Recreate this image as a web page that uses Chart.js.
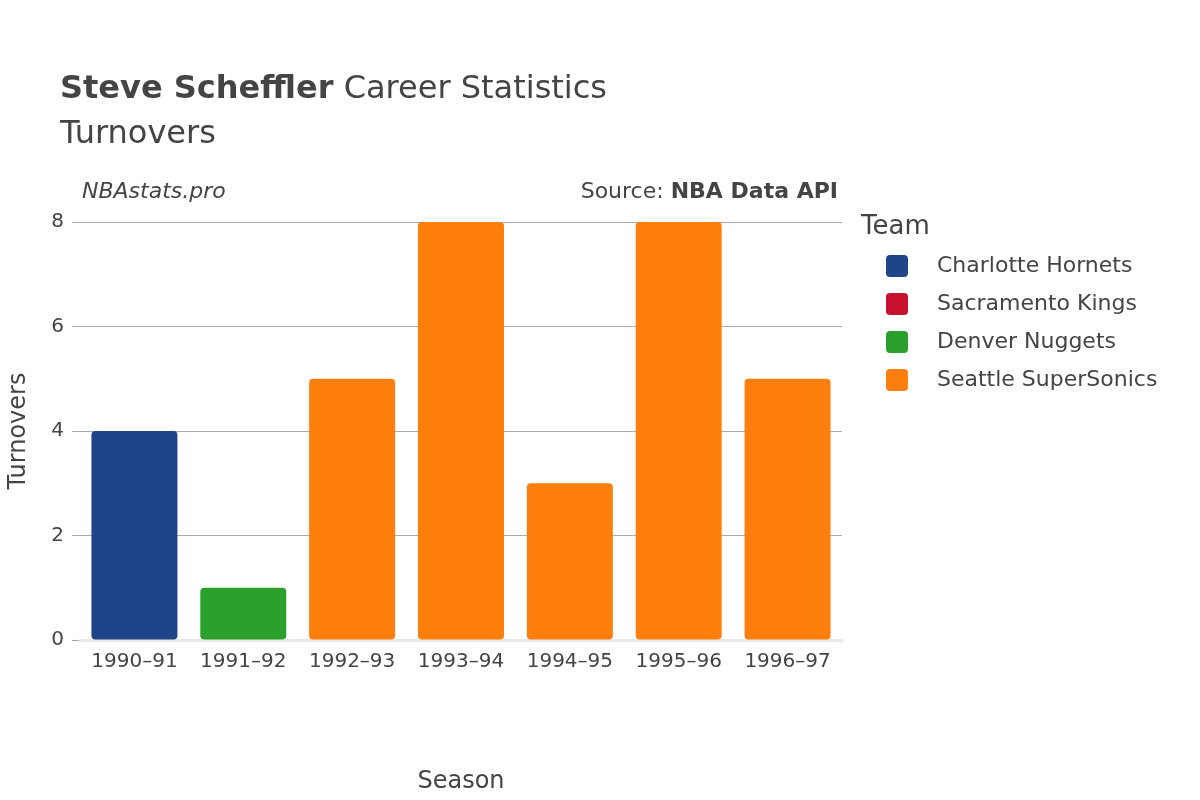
<!DOCTYPE html>
<html><head><meta charset="utf-8">
<script src="https://cdn.jsdelivr.net/npm/chart.js@4/dist/chart.umd.min.js"></script>
<style>
body{margin:0;width:1200px;height:800px;background:#fff;font-family:"DejaVu Sans",sans-serif;position:relative;overflow:hidden}
.t{position:absolute;color:#444;white-space:nowrap}
canvas{position:absolute;left:0;top:0}
.sw{position:absolute;width:22px;height:22px;border-radius:4px}
</style></head><body>
<canvas id="c" width="1200" height="800"></canvas>
<div class="t" style="left:60px;top:68px;font-size:32px"><b>Steve Scheffler</b> Career Statistics</div>
<div class="t" style="left:60px;top:113px;font-size:32px">Turnovers</div>
<div class="t" style="left:82px;top:178px;font-size:22px;font-style:italic">NBAstats.pro</div>
<div class="t" style="right:362px;top:178px;font-size:22px">Source: <b>NBA Data API</b></div>
<div class="t" style="left:861px;top:210px;font-size:26px">Team</div>
<div id="leg"></div>
<script>
const seasons=["1990–91","1991–92","1992–93","1993–94","1994–95","1995–96","1996–97"];
const teams=["Charlotte Hornets","Sacramento Kings","Denver Nuggets","Seattle SuperSonics"];
const colors=["#1f4488","#c8102e","#2ca02c","#ff7f0e"];
const charlotte=[4,null,null,null,null,null,null];
const sacramento=[null,null,null,null,null,null,null];
const denver=[null,1,null,null,null,null,null];
const seattle=[null,null,5,8,3,8,5];
const vals=[charlotte,sacramento,denver,seattle];
const leg=document.getElementById('leg');
teams.forEach((t,i)=>{
  leg.insertAdjacentHTML('beforeend',`<div class="sw" style="left:886px;top:${255+i*38}px;background:${colors[i]}"></div><div class="t" style="left:937px;top:${252+i*38}px;font-size:22px">${t}</div>`);
});
new Chart(document.getElementById('c'),{
  type:'bar',
  data:{labels:seasons,datasets:teams.map((t,i)=>({label:t,data:vals[i],backgroundColor:colors[i],borderRadius:4,borderSkipped:false,barPercentage:0.79,categoryPercentage:1}))},
  options:{responsive:false,animation:false,
    layout:{padding:{left:0,top:222,right:358,bottom:0}},
    plugins:{legend:{display:false},tooltip:{enabled:false}},
    scales:{
      x:{stacked:true,grid:{display:false},border:{color:'#e8e8e8',width:3},
        ticks:{color:'#444',font:{size:20,family:'DejaVu Sans'},maxRotation:0,padding:2},
        title:{display:true,text:'Season',color:'#444',font:{size:24,family:'DejaVu Sans'},padding:{top:22}},
        afterFit:s=>{s.height=160}},
      y:{stacked:true,min:0,max:8,grid:{color:'#aaa'},border:{display:false},
        ticks:{stepSize:2,color:'#444',font:{size:20,family:'DejaVu Sans'},padding:8},
        title:{display:true,text:'Turnovers',color:'#444',font:{size:24,family:'DejaVu Sans'}},
        afterFit:s=>{s.width=80}}
    }}
});
</script></body></html>
